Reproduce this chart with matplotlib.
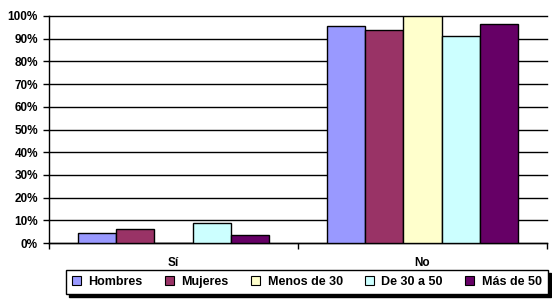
import matplotlib
matplotlib.use("Agg")
import matplotlib.pyplot as plt
import numpy as np
from matplotlib.ticker import FixedLocator, FuncFormatter

plt.rcParams["font.family"] = "Liberation Sans"
plt.rcParams["font.weight"] = "bold"
plt.rcParams["font.size"] = 8.5

categories = ["Sí", "No"]
series_names = ["Hombres", "Mujeres", "Menos de 30", "De 30 a 50", "Más de 50"]
series_colors = ["#9999FF", "#993366", "#FFFFCC", "#CCFFFF", "#660066"]
hombres = [4.4, 95.6]
mujeres = [6.2, 93.8]
menos_30 = [0.0, 100.0]
de_30_50 = [8.8, 91.2]
mas_50 = [3.5, 96.5]
values = [hombres, mujeres, menos_30, de_30_50, mas_50]

fig = plt.figure(figsize=(5.52, 3.03), dpi=100)
ax = fig.add_axes([49 / 552, 1 - 243 / 303, 498 / 552, 227 / 303])

# ancho de barra: 5 barras + 150% de hueco
bar_w = 1 / 6.5
x = np.arange(len(categories))
for i, (name, vals, col) in enumerate(zip(series_names, values, series_colors)):
    offs = (i - 2) * bar_w
    ax.bar(x + offs, vals, width=bar_w, color=col, edgecolor="black",
           linewidth=1, label=name, zorder=3)

ax.set_xlim(-0.5, 1.5)
ax.set_ylim(0, 100)
ax.set_yticks(np.arange(0, 101, 10))
ax.yaxis.set_major_formatter(FuncFormatter(lambda v, p: f"{int(v)}%"))
ax.yaxis.grid(True, color="black", linewidth=1)
for gl in ax.get_ygridlines():
    gl.set_clip_on(False)
ax.set_axisbelow(True)

ax.set_xticks(x, categories)
ax.tick_params(axis="x", which="major", length=0, pad=10)
ax.xaxis.set_minor_locator(FixedLocator([-0.5, 0.5, 1.5]))
ax.tick_params(axis="x", which="minor", length=4, width=1, direction="out")
ax.tick_params(axis="y", length=4, width=1, direction="out", pad=4)

ax.spines["top"].set_visible(False)
ax.spines["right"].set_visible(False)
ax.spines["left"].set_linewidth(1)
ax.spines["bottom"].set_linewidth(1)

leg = fig.legend(loc="center", bbox_to_anchor=(307 / 552, 1 - 282 / 303), ncol=5,
                 frameon=True, fancybox=False, edgecolor="black",
                 shadow={"color": "black", "alpha": 1},
                 handlelength=0.7, handleheight=0.7, handletextpad=0.6,
                 columnspacing=1.8, borderpad=0.5, prop={"size": 9, "weight": "bold"})
leg.get_frame().set_linewidth(1)
for h in leg.legend_handles:
    h.set_linewidth(0.8)

fig.savefig("out.png", dpi=100)
